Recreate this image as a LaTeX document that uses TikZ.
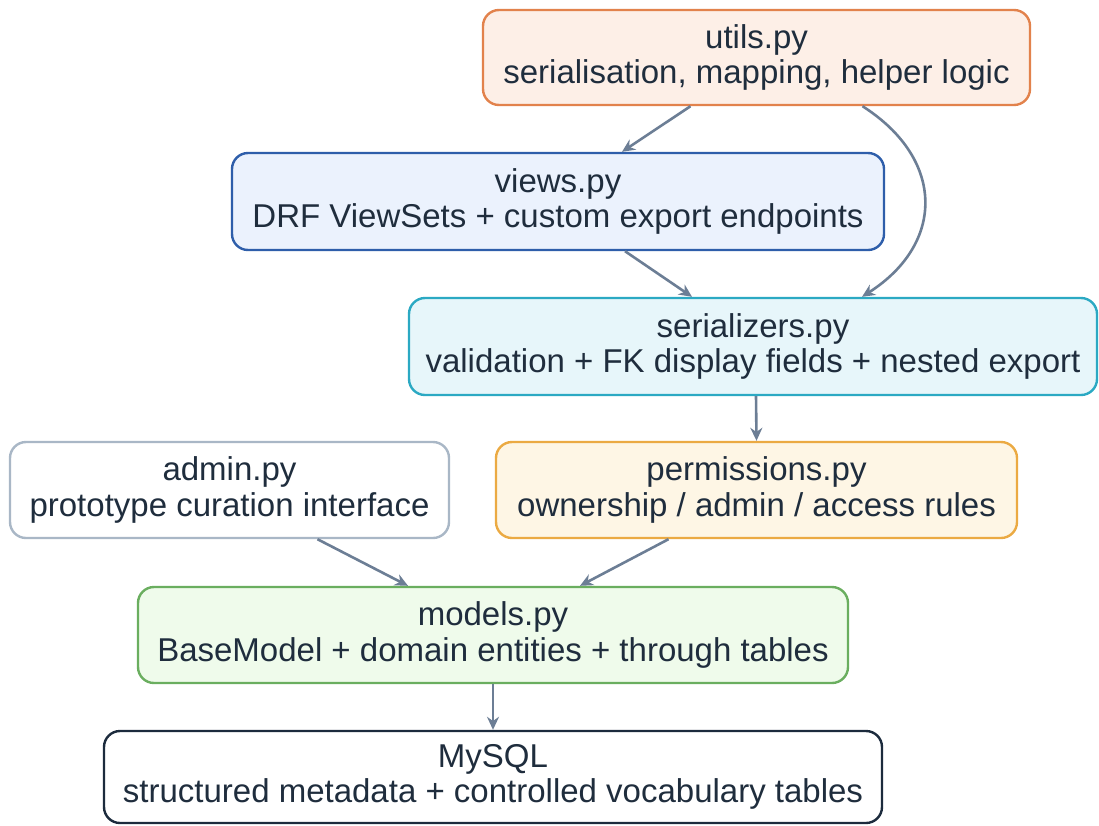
\documentclass[tikz,border=0pt]{standalone}
\usepackage{fontspec}
\setmainfont{Liberation Sans}
\usetikzlibrary{arrows.meta}
\definecolor{txt}{HTML}{1F2D3D}
\definecolor{arrowc}{HTML}{6C7E95}
\definecolor{utilsF}{HTML}{FDEFE7}\definecolor{utilsD}{HTML}{E2824C}
\definecolor{viewsF}{HTML}{EBF2FD}\definecolor{viewsD}{HTML}{2E5EAA}
\definecolor{serF}{HTML}{E7F6FA}\definecolor{serD}{HTML}{2BA9C3}
\definecolor{adminD}{HTML}{A9B7C6}
\definecolor{permF}{HTML}{FEF6E5}\definecolor{permD}{HTML}{EBAA43}
\definecolor{modF}{HTML}{EFFBEB}\definecolor{modD}{HTML}{6AAE5F}
\definecolor{dbD}{HTML}{1C2B3D}
\tikzset{
  modbox/.style={draw, line width=2.4pt, rounded corners=16pt, inner sep=0pt,
    align=center, text=txt, font=\fontsize{33}{35.5}\selectfont},
  arr/.style={draw=arrowc, line width=2.6pt, -{Stealth[length=13pt,width=12pt]}}
}
\begin{document}
\begin{tikzpicture}[x=1pt,y=-1pt]
\useasboundingbox (0,0) rectangle (1099,825);
\node[modbox, fill=utilsF, draw=utilsD, minimum width=547pt, minimum height=95pt] (utils) at (756.5,57.5)
  {utils.py\\serialisation, mapping, helper logic};
\node[modbox, fill=viewsF, draw=viewsD, minimum width=652pt, minimum height=97pt] (views) at (558,201.5)
  {views.py\\DRF ViewSets + custom export endpoints};
\node[modbox, fill=serF, draw=serD, minimum width=688pt, minimum height=97pt] (ser) at (753,346.5)
  {serializers.py\\validation + FK display fields + nested export};
\node[modbox, fill=white, draw=adminD, minimum width=439pt, minimum height=96pt] (admin) at (229.5,490)
  {admin.py\\prototype curation interface};
\node[modbox, fill=permF, draw=permD, minimum width=521pt, minimum height=96pt] (perm) at (756.5,490)
  {permissions.py\\ownership / admin / access rules};
\node[modbox, fill=modF, draw=modD, minimum width=710pt, minimum height=96pt] (models) at (493,635)
  {models.py\\BaseModel + domain entities + through tables};
\node[modbox, fill=white, draw=dbD, minimum width=778pt, minimum height=92pt] (db) at (493,777)
  {MySQL\\structured metadata + controlled vocabulary tables};
% dependency arrows
\draw[arr] ([xshift=-66pt]utils.south) -- ([xshift=64pt]views.north);
\draw[arr] ([xshift=106pt]utils.south) .. controls ++(83pt,-53pt) and ++(83pt,53pt) .. ([xshift=109pt]ser.north);
\draw[arr] ([xshift=67pt]views.south) -- ([xshift=-61pt]ser.north);
\draw[arr] ([xshift=3pt]ser.south) -- ([xshift=0pt]perm.north);
\draw[arr] ([xshift=88pt]admin.south) -- ([xshift=-85pt]models.north);
\draw[arr] ([xshift=-88pt]perm.south) -- ([xshift=87pt]models.north);
\draw[arr] (models.south) -- (db.north);
\end{tikzpicture}
\end{document}
